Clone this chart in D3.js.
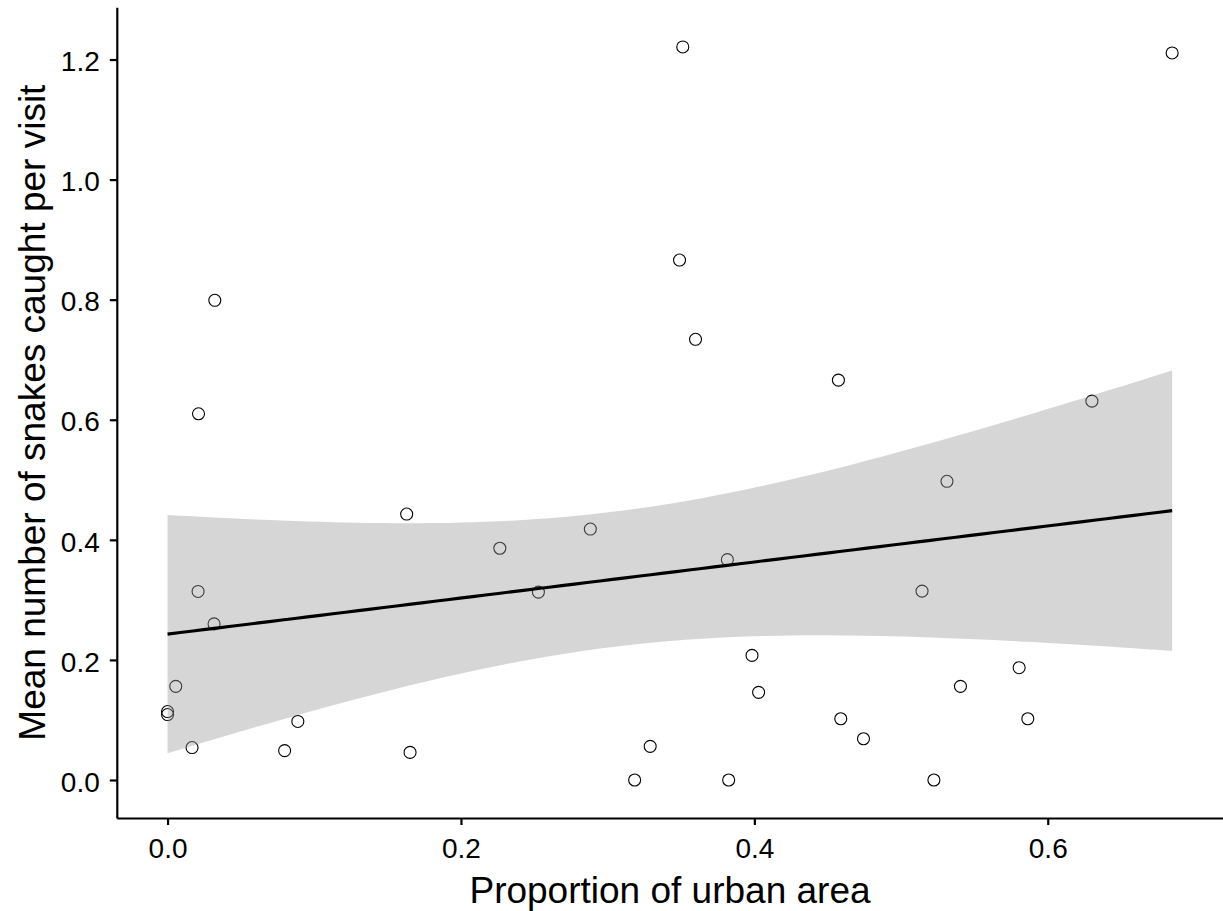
<!DOCTYPE html>
<html>
<head>
<meta charset="utf-8">
<script src="https://cdn.jsdelivr.net/npm/d3@7"></script>
<style>
  html, body { margin: 0; padding: 0; background: #fff; }
  svg { display: block; }
  text { font-family: "Liberation Sans", Arial, Helvetica, sans-serif; fill: #000; }
</style>
</head>
<body>
<svg id="chart" width="1223" height="911"></svg>
<script>
// Site-level observations: proportion of urban land cover vs. mean snakes caught per visit
const urbanProp = [
  0.000, 0.000, 0.0056, 0.0167, 0.0211, 0.0208, 0.0322, 0.0317, 0.0798, 0.0888,
  0.1630, 0.1653, 0.2265, 0.2528, 0.2882, 0.3184, 0.3290, 0.3490, 0.3512, 0.3599,
  0.3816, 0.3825, 0.3984, 0.4029, 0.4573, 0.4589, 0.4744, 0.5143, 0.5224, 0.5313,
  0.5405, 0.5805, 0.5864, 0.6301, 0.6848
];
const snakesPerVisit = [
  0.114, 0.109, 0.156, 0.054, 0.610, 0.314, 0.799, 0.260, 0.049, 0.0975,
  0.443, 0.046, 0.386, 0.313, 0.418, 0.000, 0.056, 0.866, 1.221, 0.734,
  0.367, 0.000, 0.2075, 0.146, 0.666, 0.102, 0.0687, 0.3145, 0.000, 0.4975,
  0.156, 0.187, 0.102, 0.631, 1.211
];
const xTicks = [0, 0.2, 0.4, 0.6];
const yTicks = [0, 0.2, 0.4, 0.6, 0.8, 1.0, 1.2];
const xTitle = "Proportion of urban area";
const yTitle = "Mean number of snakes caught per visit";

const svg = d3.select("#chart");

// Panel geometry
const panel = { left: 116.8, right: 1223.2, top: 7.3, bottom: 818 };

const x = d3.scaleLinear().domain([-0.0346, 0.7196]).range([panel.left, panel.right]);
const y = d3.scaleLinear().domain([-0.0633, 1.2870]).range([panel.bottom, panel.top]);

// Ordinary least squares fit with a 95% confidence band (as in geom_smooth(method = "lm"))
const pts = urbanProp.map((u, i) => ({ x: u, y: snakesPerVisit[i] }));
const n = pts.length;
const xbar = d3.mean(pts, d => d.x);
const ybar = d3.mean(pts, d => d.y);
const sxx = d3.sum(pts, d => (d.x - xbar) ** 2);
const sxy = d3.sum(pts, d => (d.x - xbar) * (d.y - ybar));
const slope = sxy / sxx;
const intercept = ybar - slope * xbar;
const sse = d3.sum(pts, d => (d.y - (intercept + slope * d.x)) ** 2);
const sigma = Math.sqrt(sse / (n - 2));

// Student t quantile (0.975) via Cornish-Fisher expansion
function tQuantile975(df) {
  const z = 1.959964;
  const z3 = z ** 3, z5 = z ** 5, z7 = z ** 7;
  return z + (z3 + z) / (4 * df)
           + (5 * z5 + 16 * z3 + 3 * z) / (96 * df * df)
           + (3 * z7 + 19 * z5 + 17 * z3 - 15 * z) / (384 * df ** 3);
}
const tq = tQuantile975(n - 2);

const [xmin, xmax] = d3.extent(pts, d => d.x);
const grid = d3.range(80).map(i => xmin + (xmax - xmin) * i / 79);
const fit = grid.map(g => {
  const yhat = intercept + slope * g;
  const se = sigma * Math.sqrt(1 / n + (g - xbar) ** 2 / sxx);
  return { x: g, fit: yhat, lo: yhat - tq * se, hi: yhat + tq * se };
});

// Points
svg.append("g")
  .selectAll("circle")
  .data(pts)
  .join("circle")
  .attr("cx", d => x(d.x))
  .attr("cy", d => y(d.y))
  .attr("r", 6)
  .attr("fill", "none")
  .attr("stroke", "#000")
  .attr("stroke-width", 1.1);

// Confidence ribbon
svg.append("path")
  .datum(fit)
  .attr("fill", "#999999")
  .attr("fill-opacity", 0.4)
  .attr("d", d3.area().x(d => x(d.x)).y0(d => y(d.lo)).y1(d => y(d.hi)));

// Fitted line
svg.append("path")
  .datum(fit)
  .attr("fill", "none")
  .attr("stroke", "#000")
  .attr("stroke-width", 3.1)
  .attr("d", d3.line().x(d => x(d.x)).y(d => y(d.fit)));

// Axes
const xAxis = svg.append("g")
  .attr("transform", `translate(0,${panel.bottom})`)
  .call(d3.axisBottom(x).tickValues(xTicks).tickFormat(d3.format(".1f"))
        .tickSize(7).tickSizeOuter(0).tickPadding(13));
const yAxis = svg.append("g")
  .attr("transform", `translate(${panel.left},0)`)
  .call(d3.axisLeft(y).tickValues(yTicks).tickFormat(d3.format(".1f"))
        .tickSize(7).tickSizeOuter(0).tickPadding(10));

[xAxis, yAxis].forEach(g => {
  g.select(".domain").attr("stroke", "#000").attr("stroke-width", 2.2);
  g.selectAll(".tick line").attr("stroke", "#000").attr("stroke-width", 2.2);
  g.selectAll(".tick text").attr("font-size", 28).attr("fill", "#000")
    .style("font-family", '"Liberation Sans", Arial, sans-serif');
});
yAxis.selectAll(".tick text").attr("dy", "0.4em");

// Axis titles
svg.append("text")
  .attr("x", (panel.left + panel.right) / 2)
  .attr("y", 903)
  .attr("text-anchor", "middle")
  .attr("font-size", 37)
  .text(xTitle);

svg.append("text")
  .attr("transform", `translate(45,${(panel.top + panel.bottom) / 2}) rotate(-90)`)
  .attr("text-anchor", "middle")
  .attr("font-size", 37)
  .text(yTitle);
</script>
</body>
</html>
